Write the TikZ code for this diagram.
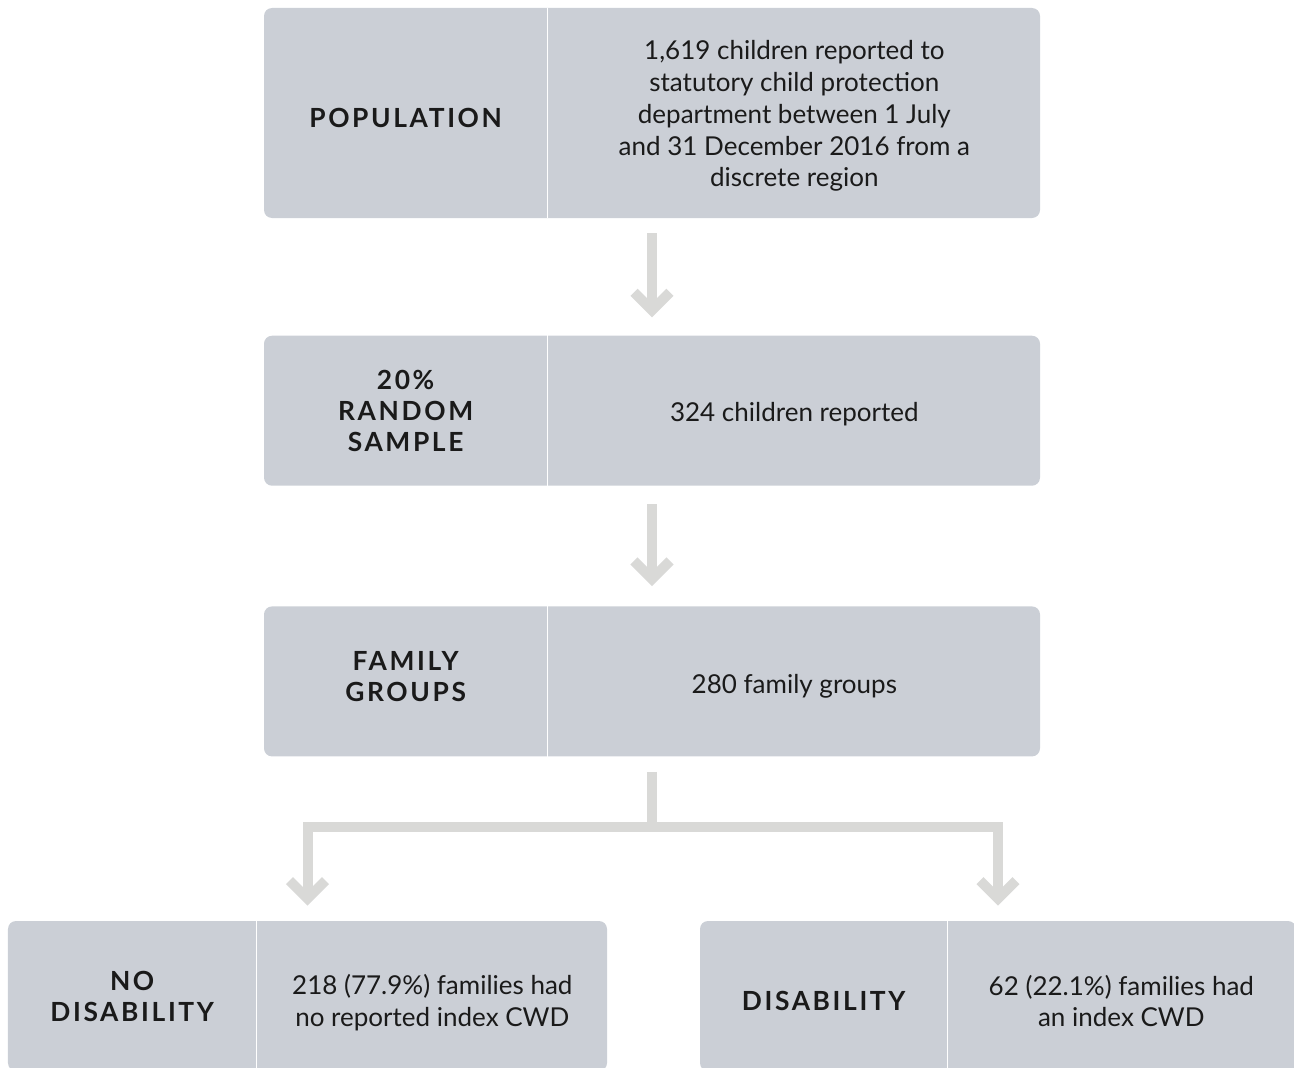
\documentclass[tikz,border=0pt]{standalone}
\usepackage{fontspec}
\setmainfont{Lato}
\newfontfamily\headfont[LetterSpace=10]{Lato}
\usetikzlibrary{arrows.meta,positioning}
\definecolor{boxgrey}{HTML}{CBCFD6}
\definecolor{arrowgrey}{HTML}{D9D9D7}
\definecolor{inkgrey}{HTML}{1A1A1A}

\begin{document}
\begin{tikzpicture}[font=\fontsize{14.8}{18.1}\selectfont]

		% Define panel, text and arrow styles
		\tikzstyle{panel} = [rectangle, fill=boxgrey, rounded corners=0.16cm, inner sep=0pt]
		\tikzstyle{heading} = [font=\headfont\bfseries\fontsize{15}{17.6}\selectfont, align=center, text=inkgrey]
		\tikzstyle{detail} = [align=center, text=inkgrey]
		\tikzstyle{divider} = [white, line width=0.8pt]
		\tikzstyle{trunk} = [arrowgrey, line width=0.2cm]
		\tikzstyle{flow} = [trunk, -{Straight Barb[length=0.36cm, width=0.72cm]}]

		\useasboundingbox (0,0) rectangle (25.88,-21.36);
		\clip (0,0) rectangle (25.88,-21.36);

		% Panels arranged in vertical order
		\node[panel, minimum width=15.52cm, minimum height=4.2cm] (population) at (13.04,-2.26) {};
		\node[panel, minimum width=15.52cm, minimum height=3cm, below=2.34cm of population] (sample) {};
		\node[panel, minimum width=15.52cm, minimum height=3cm, below=2.4cm of sample] (families) {};
		\node[panel, minimum width=11.98cm, minimum height=3cm] (nodisability) at (6.15,-19.92) {};
		\node[panel, minimum width=11.92cm, minimum height=3cm] (disability) at (19.96,-19.92) {};

		% Dividers
		\draw[divider] ([xshift=5.68cm]population.north west) -- ([xshift=5.68cm]population.south west);
		\draw[divider] ([xshift=5.68cm]sample.north west) -- ([xshift=5.68cm]sample.south west);
		\draw[divider] ([xshift=5.68cm]families.north west) -- ([xshift=5.68cm]families.south west);
		\draw[divider] ([xshift=4.98cm]nodisability.north west) -- ([xshift=4.98cm]nodisability.south west);
		\draw[divider] ([xshift=4.96cm]disability.north west) -- ([xshift=4.96cm]disability.south west);

		% Labels
		\node[heading] (populationname) at ([xshift=2.84cm, yshift=-0.1cm]population.west) {POPULATION};
		\node[detail] (populationtext) at ([xshift=-4.92cm, yshift=-0.06cm]population.east) {1,619 children reported to\\statutory child protection\\department between 1 July\\and 31 December 2016 from a\\discrete region};
		\node[heading] (samplename) at ([xshift=2.84cm]sample.west) {20\%\\RANDOM\\SAMPLE};
		\node[detail] (sampletext) at ([xshift=-4.92cm, yshift=-0.06cm]sample.east) {324 children reported};
		\node[heading] (familiesname) at ([xshift=2.84cm, yshift=0.1cm]families.west) {FAMILY\\GROUPS};
		\node[detail] (familiestext) at ([xshift=-4.92cm, yshift=-0.1cm]families.east) {280 family groups};
		\node[heading] (nodisabilityname) at ([xshift=2.49cm]nodisability.west) {NO\\DISABILITY};
		\node[detail] (nodisabilitytext) at ([xshift=-3.5cm, yshift=-0.14cm]nodisability.east) {218 (77.9\%) families had\\no reported index CWD};
		\node[heading] (disabilityname) at ([xshift=2.48cm, yshift=-0.1cm]disability.west) {DISABILITY};
		\node[detail] (disabilitytext) at ([xshift=-3.5cm, yshift=-0.1cm]disability.east) {62 (22.1\%) families had\\an index CWD};

		% Arrows
		\draw[flow, shorten <=0.3cm, shorten >=0.36cm] (population) -- (sample);
		\draw[flow, shorten <=0.36cm, shorten >=0.4cm] (sample) -- (families);
		\coordinate (fork) at ([yshift=-1.41cm]families.south);
		\draw[trunk, shorten <=0.3cm] (families) -- (fork);
		\draw[flow, shorten >=0.3cm] (fork) -| (nodisability);
		\draw[flow, shorten >=0.3cm] (fork) -| (disability);

\end{tikzpicture}
\end{document}
